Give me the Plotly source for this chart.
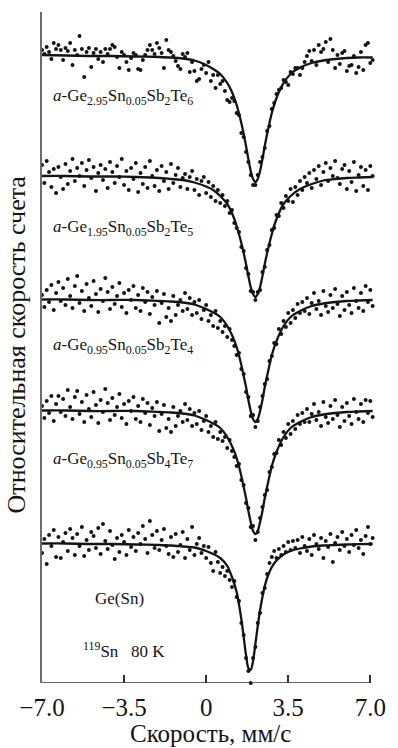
import plotly.graph_objects as go

# Doppler velocity of each spectrometer channel, mm/s
VELOCITY = [
    -7.0, -6.9, -6.8, -6.7, -6.6, -6.5, -6.4, -6.3, -6.2, -6.1,
    -6.0, -5.9, -5.8, -5.7, -5.6, -5.5, -5.4, -5.3, -5.2, -5.1,
    -5.0, -4.9, -4.8, -4.7, -4.6, -4.5, -4.4, -4.3, -4.2, -4.1,
    -4.0, -3.9, -3.8, -3.7, -3.6, -3.5, -3.4, -3.3, -3.2, -3.1,
    -3.0, -2.9, -2.8, -2.7, -2.6, -2.5, -2.4, -2.3, -2.2, -2.1,
    -2.0, -1.9, -1.8, -1.7, -1.6, -1.5, -1.4, -1.3, -1.2, -1.1,
    -1.0, -0.9, -0.8, -0.7, -0.6, -0.5, -0.4, -0.3, -0.2, -0.1,
    0.0, 0.1, 0.2, 0.3, 0.4, 0.5, 0.6, 0.7, 0.8, 0.9,
    1.0, 1.1, 1.2, 1.3, 1.4, 1.5, 1.6, 1.7, 1.8, 1.9,
    2.0, 2.1, 2.2, 2.3, 2.4, 2.5, 2.6, 2.7, 2.8, 2.9,
    3.0, 3.1, 3.2, 3.3, 3.4, 3.5, 3.6, 3.7, 3.8, 3.9,
    4.0, 4.1, 4.2, 4.3, 4.4, 4.5, 4.6, 4.7, 4.8, 4.9,
    5.0, 5.1, 5.2, 5.3, 5.4, 5.5, 5.6, 5.7, 5.8, 5.9,
    6.0, 6.1, 6.2, 6.3, 6.4, 6.5, 6.6, 6.7, 6.8, 6.9,
    7.0, 7.1,
]

# Relative count rate, one value per channel
COUNTS_GE295 = [
    1.005, 1.001, 1.008, 1.003, 0.996, 1.012, 1.006, 1.010, 1.005, 0.995,
    1.007, 1.004, 1.012, 0.990, 1.005, 1.000, 1.019, 1.006, 0.978, 1.003,
    1.007, 0.988, 1.002, 1.006, 0.996, 1.003, 0.993, 1.006, 1.001, 1.006,
    1.010, 1.008, 0.998, 0.987, 1.003, 1.000, 0.993, 0.985, 0.997, 1.002,
    1.000, 0.986, 0.985, 0.995, 1.000, 1.005, 1.010, 1.005, 1.001, 1.012,
    1.007, 1.002, 0.987, 1.015, 1.005, 1.003, 0.999, 0.994, 0.989, 0.986,
    1.001, 0.998, 1.002, 0.983, 0.993, 0.984, 0.974, 0.976, 0.986, 0.990,
    0.982, 0.993, 0.974, 0.980, 0.967, 0.980, 0.971, 0.974, 0.964, 0.955,
    0.953, 0.957, 0.954, 0.942, 0.940, 0.922, 0.918, 0.903, 0.893, 0.880,
    0.870, 0.870, 0.880, 0.893, 0.898, 0.907, 0.924, 0.929, 0.946, 0.952,
    0.961, 0.965, 0.967, 0.975, 0.973, 0.970, 0.983, 0.981, 0.987, 0.987,
    0.980, 0.987, 0.993, 0.999, 1.004, 0.994, 1.005, 0.990, 1.010, 1.003,
    1.006, 1.013, 0.993, 1.016, 1.005, 0.987, 1.000, 0.991, 1.002, 1.004,
    0.984, 0.989, 0.990, 0.999, 0.982, 0.988, 1.003, 0.985, 1.010, 1.012,
    0.992, 0.995,
]
COUNTS_GE195 = [
    1.010, 0.992, 1.014, 1.003, 0.988, 1.006, 0.982, 1.008, 0.998, 0.986,
    1.011, 0.991, 1.004, 1.016, 0.994, 1.007, 0.999, 1.012, 0.989, 1.005,
    1.015, 0.997, 1.008, 0.984, 1.002, 1.010, 0.995, 1.006, 0.987, 1.013,
    1.003, 0.992, 1.009, 0.998, 1.016, 0.990, 1.004, 0.985, 1.007, 0.996,
    1.012, 0.983, 1.002, 0.991, 1.008, 0.987, 1.014, 0.999, 0.989, 1.005,
    0.984, 1.009, 0.994, 1.003, 0.986, 1.011, 0.992, 1.000, 1.007, 0.988,
    0.997, 1.001, 0.986, 0.998, 1.004, 0.985, 0.996, 0.980, 0.994, 0.998,
    0.982, 0.993, 0.978, 0.989, 0.974, 0.985, 0.972, 0.980, 0.969, 0.974,
    0.962, 0.965, 0.952, 0.947, 0.943, 0.928, 0.924, 0.907, 0.901, 0.884,
    0.883, 0.875, 0.883, 0.885, 0.903, 0.908, 0.925, 0.930, 0.945, 0.947,
    0.960, 0.959, 0.972, 0.967, 0.979, 0.974, 0.986, 0.973, 0.988, 0.980,
    0.994, 0.985, 0.998, 0.992, 1.002, 0.987, 1.005, 0.996, 1.009, 0.990,
    1.003, 1.012, 0.994, 1.007, 0.999, 1.014, 0.997, 0.991, 1.006, 1.010,
    0.986, 1.004, 0.993, 1.013, 0.984, 1.000, 1.008, 0.989, 1.005, 0.985,
    1.009, 0.999,
]
COUNTS_GE095_TE4 = [
    1.004, 0.992, 1.009, 0.997, 1.014, 0.989, 1.006, 1.017, 0.998, 1.011,
    0.994, 1.020, 1.003, 0.991, 1.013, 1.023, 0.996, 1.008, 0.988, 1.015,
    1.001, 0.993, 1.018, 1.005, 0.987, 1.010, 0.998, 1.021, 1.007, 0.990,
    1.012, 0.995, 1.003, 1.016, 0.992, 1.006, 0.986, 1.009, 0.999, 1.013,
    0.991, 1.004, 0.988, 1.011, 0.997, 1.007, 0.985, 1.002, 0.994, 1.008,
    0.976, 0.996, 1.005, 0.982, 0.991, 0.978, 1.003, 0.984, 0.994, 0.999,
    0.988, 1.006, 0.990, 1.001, 0.984, 0.997, 0.986, 0.999, 0.980, 0.989,
    0.994, 0.978, 0.984, 0.973, 0.988, 0.971, 0.978, 0.967, 0.973, 0.962,
    0.970, 0.959, 0.953, 0.944, 0.946, 0.930, 0.925, 0.907, 0.902, 0.883,
    0.884, 0.872, 0.878, 0.892, 0.903, 0.915, 0.920, 0.938, 0.943, 0.956,
    0.955, 0.970, 0.965, 0.978, 0.972, 0.986, 0.976, 0.989, 0.981, 0.995,
    0.986, 0.997, 0.988, 1.001, 0.985, 0.996, 1.006, 0.990, 0.998, 0.984,
    1.008, 0.993, 0.987, 1.004, 0.991, 1.010, 0.995, 0.983, 1.003, 0.989,
    1.007, 0.994, 0.986, 1.011, 0.998, 0.991, 1.006, 0.988, 1.013, 0.997,
    1.009, 0.993,
]
COUNTS_GE095_TE7 = [
    1.004, 0.992, 1.009, 0.997, 1.014, 0.989, 1.006, 1.014, 0.998, 1.011,
    0.994, 1.020, 1.003, 0.991, 1.013, 1.019, 0.996, 1.008, 0.988, 1.015,
    1.001, 0.993, 1.018, 1.005, 0.987, 1.010, 0.998, 1.021, 1.007, 0.990,
    1.012, 0.995, 1.003, 1.016, 0.992, 1.006, 0.986, 1.009, 0.999, 1.013,
    0.991, 1.004, 0.988, 1.011, 0.997, 1.007, 0.985, 1.002, 0.994, 1.008,
    0.979, 0.996, 1.005, 0.982, 0.991, 0.978, 1.003, 0.984, 0.994, 0.999,
    0.988, 1.006, 0.990, 1.001, 0.984, 0.997, 0.986, 0.999, 0.980, 0.989,
    0.994, 0.978, 0.984, 0.973, 0.988, 0.971, 0.978, 0.969, 0.973, 0.962,
    0.970, 0.959, 0.953, 0.944, 0.946, 0.930, 0.925, 0.907, 0.902, 0.883,
    0.884, 0.870, 0.878, 0.892, 0.903, 0.915, 0.920, 0.938, 0.943, 0.956,
    0.957, 0.970, 0.965, 0.978, 0.972, 0.986, 0.976, 0.989, 0.981, 0.995,
    0.986, 0.997, 0.988, 1.001, 0.988, 0.996, 1.006, 0.990, 0.998, 0.984,
    1.008, 0.993, 0.987, 1.004, 0.991, 1.010, 0.995, 0.983, 1.003, 0.989,
    1.007, 0.994, 0.986, 1.011, 0.998, 0.991, 1.006, 0.988, 1.010, 0.997,
    1.009, 0.993,
]
COUNTS_GE_SN = [
    0.990, 1.004, 0.979, 1.008, 0.997, 1.013, 0.986, 1.006, 0.985, 1.001,
    1.010, 0.992, 1.014, 1.005, 0.988, 1.009, 0.997, 1.016, 0.987, 1.003,
    0.993, 1.011, 1.007, 0.995, 1.015, 0.989, 1.019, 1.002, 0.994, 1.012,
    0.998, 0.984, 1.005, 0.991, 1.008, 1.001, 0.988, 1.013, 0.996, 1.006,
    0.992, 1.010, 0.999, 1.017, 1.004, 0.990, 1.022, 1.008, 0.995, 1.012,
    0.993, 1.003, 1.014, 0.997, 0.989, 1.006, 0.986, 1.009, 0.991, 0.998,
    1.011, 0.985, 1.004, 0.993, 1.016, 0.988, 0.999, 1.005, 0.990, 0.997,
    0.985, 0.996, 0.980, 0.972, 0.991, 0.981, 0.970, 0.976, 0.967, 0.972,
    0.963, 0.956, 0.962, 0.946, 0.942, 0.920, 0.908, 0.885, 0.872, 0.860,
    0.885, 0.896, 0.920, 0.930, 0.950, 0.955, 0.969, 0.980, 0.986, 0.992,
    0.985, 0.994, 0.988, 0.997, 0.991, 1.001, 0.993, 1.002, 0.995, 1.003,
    0.990, 1.006, 0.997, 0.992, 1.004, 0.988, 1.008, 0.999, 0.994, 1.005,
    0.985, 1.002, 0.996, 1.009, 0.981, 1.000, 1.006, 0.993, 1.011, 0.997,
    1.004, 0.991, 1.008, 0.998, 1.013, 0.995, 1.003, 0.989, 1.007, 1.016,
    0.999, 1.005,
]

# Fitted single-line profiles
FIT_VELOCITY = [
    -7.0, -6.0, -5.0, -4.0, -3.0, -2.0, -1.5, -1.0, -0.5, 0.0,
    0.3, 0.6, 0.9, 1.1, 1.3, 1.5, 1.6, 1.7, 1.8, 1.9,
    2.0, 2.1, 2.2, 2.3, 2.4, 2.5, 2.6, 2.8, 3.0, 3.3,
    3.6, 4.0, 4.5, 5.0, 5.5, 6.0, 6.5, 7.1,
]
FIT_GE295 = [
    1.000, 0.9995, 0.999, 0.999, 0.9985, 0.998, 0.9975, 0.9965, 0.9945, 0.990,
    0.986, 0.981, 0.972, 0.963, 0.950, 0.932, 0.921, 0.909, 0.896, 0.884,
    0.876, 0.873, 0.876, 0.884, 0.896, 0.909, 0.921, 0.942, 0.957, 0.972,
    0.981, 0.9875, 0.992, 0.9945, 0.996, 0.997, 0.9975, 0.9975,
]
FIT_GE195 = [
    0.999, 0.999, 0.9985, 0.9985, 0.998, 0.997, 0.996, 0.995, 0.9925, 0.9885,
    0.985, 0.979, 0.971, 0.962, 0.949, 0.932, 0.922, 0.911, 0.899, 0.888,
    0.881, 0.878, 0.881, 0.888, 0.899, 0.911, 0.922, 0.941, 0.956, 0.971,
    0.979, 0.986, 0.991, 0.9945, 0.996, 0.997, 0.9975, 0.998,
]
FIT_GE095_TE4 = [
    0.9995, 0.9995, 0.999, 0.999, 0.999, 0.998, 0.9975, 0.9965, 0.9945, 0.990,
    0.9865, 0.982, 0.973, 0.964, 0.952, 0.934, 0.923, 0.912, 0.899, 0.888,
    0.880, 0.877, 0.880, 0.888, 0.899, 0.912, 0.923, 0.944, 0.958, 0.973,
    0.982, 0.988, 0.993, 0.9955, 0.997, 0.998, 0.9985, 0.999,
]
FIT_GE095_TE7 = [
    0.9995, 0.9995, 0.999, 0.999, 0.999, 0.998, 0.9975, 0.9965, 0.9945, 0.990,
    0.9865, 0.982, 0.973, 0.964, 0.952, 0.934, 0.923, 0.912, 0.899, 0.888,
    0.879, 0.876, 0.879, 0.888, 0.899, 0.912, 0.923, 0.944, 0.958, 0.973,
    0.982, 0.988, 0.993, 0.9955, 0.997, 0.998, 0.9985, 0.999,
]
FIT_GE_SN = [
    0.9995, 0.9995, 0.999, 0.999, 0.9985, 0.998, 0.9975, 0.9965, 0.9955, 0.992,
    0.989, 0.985, 0.977, 0.966, 0.951, 0.924, 0.906, 0.888, 0.875, 0.873,
    0.882, 0.899, 0.917, 0.933, 0.946, 0.957, 0.965, 0.976, 0.9825, 0.9885,
    0.992, 0.9945, 0.9965, 0.9975, 0.998, 0.9985, 0.9988, 0.999,
]

SAMPLE_LABELS = [
    "<i>a</i>-Ge<sub>2.95</sub>Sn<sub>0.05</sub>Sb<sub>2</sub>Te<sub>6</sub>",
    "<i>a</i>-Ge<sub>1.95</sub>Sn<sub>0.05</sub>Sb<sub>2</sub>Te<sub>5</sub>",
    "<i>a</i>-Ge<sub>0.95</sub>Sn<sub>0.05</sub>Sb<sub>2</sub>Te<sub>4</sub>",
    "<i>a</i>-Ge<sub>0.95</sub>Sn<sub>0.05</sub>Sb<sub>4</sub>Te<sub>7</sub>",
    "Ge(Sn)",
]
SOURCE_LABEL = "<sup>119</sup>Sn\u00a0\u00a0\u00a080 K"

TICK_VALUES = [-7.0, -3.5, 0.0, 3.5, 7.0]
TICK_LABELS = ["\u22127.0", "\u22123.5", "0", "3.5", "7.0"]
X_TITLE = "Скорость, мм/с"
Y_TITLE = "Относительная скорость счета"

# vertical stacking of the spectra (baseline of each curve on the shared axis)
OFFSETS = [0.628, 0.508, 0.384, 0.273, 0.140]
LABEL_DROP = [0.042, 0.053, 0.047, 0.050, 0.055]
LABEL_X = [-6.61, -6.61, -6.61, -6.61, -4.83]

SERIF = "Liberation Serif, Times New Roman, serif"
INK = "#141414"

spectra = [COUNTS_GE295, COUNTS_GE195, COUNTS_GE095_TE4, COUNTS_GE095_TE7, COUNTS_GE_SN]
fits = [FIT_GE295, FIT_GE195, FIT_GE095_TE4, FIT_GE095_TE7, FIT_GE_SN]

fig = go.Figure()
for counts, fit, off in zip(spectra, fits, OFFSETS):
    fig.add_trace(go.Scatter(
        x=FIT_VELOCITY, y=[off + (f - 1.0) for f in fit],
        mode="lines", line=dict(color=INK, width=2.3, shape="spline", smoothing=0.8),
        hoverinfo="skip",
    ))
    fig.add_trace(go.Scatter(
        x=VELOCITY, y=[off + (c - 1.0) for c in counts],
        mode="markers", marker=dict(color=INK, size=4),
        cliponaxis=False, hoverinfo="skip",
    ))

annotations = []
for text, off, drop, lx in zip(SAMPLE_LABELS, OFFSETS, LABEL_DROP, LABEL_X):
    annotations.append(dict(
        x=lx, y=off - drop, xref="x", yref="y", text=text, showarrow=False,
        xanchor="left", yanchor="middle", font=dict(family=SERIF, size=17, color=INK),
    ))
annotations.append(dict(
    x=-5.33, y=0.033, xref="x", yref="y", text=SOURCE_LABEL, showarrow=False,
    xanchor="left", yanchor="middle", font=dict(family=SERIF, size=17, color=INK),
))
annotations.append(dict(
    x=0.2, y=-0.0755, xref="x", yref="paper", text=X_TITLE, showarrow=False,
    xanchor="center", yanchor="middle", font=dict(family=SERIF, size=25, color=INK),
))
annotations.append(dict(
    x=-0.076, y=0.504, xref="paper", yref="paper", text=Y_TITLE, showarrow=False,
    textangle=-90, xanchor="center", yanchor="middle",
    font=dict(family=SERIF, size=26, color=INK),
))

fig.update_layout(
    width=398, height=748, autosize=False,
    margin=dict(l=42, r=12, t=12, b=65),
    paper_bgcolor="white", plot_bgcolor="white",
    showlegend=False,
    annotations=annotations,
    shapes=[dict(type="line", xref="x", yref="y", x0=-7.0, x1=7.0, y0=0, y1=0,
                 line=dict(color="#333333", width=1.6), layer="above")],
    xaxis=dict(
        range=[-7.0, 7.2], tickvals=TICK_VALUES, ticktext=TICK_LABELS,
        ticks="inside", ticklen=8, tickwidth=1.5, tickcolor="#333333",
        ticklabelstandoff=7,
        showline=False, showgrid=False, zeroline=False,
        tickfont=dict(family=SERIF, size=25, color=INK),
    ),
    yaxis=dict(
        range=[0, 0.671], showline=True, linecolor="#6b6b6b", linewidth=2,
        showticklabels=False, ticks="", showgrid=False, zeroline=False,
    ),
)

fig.write_html("out.html")
